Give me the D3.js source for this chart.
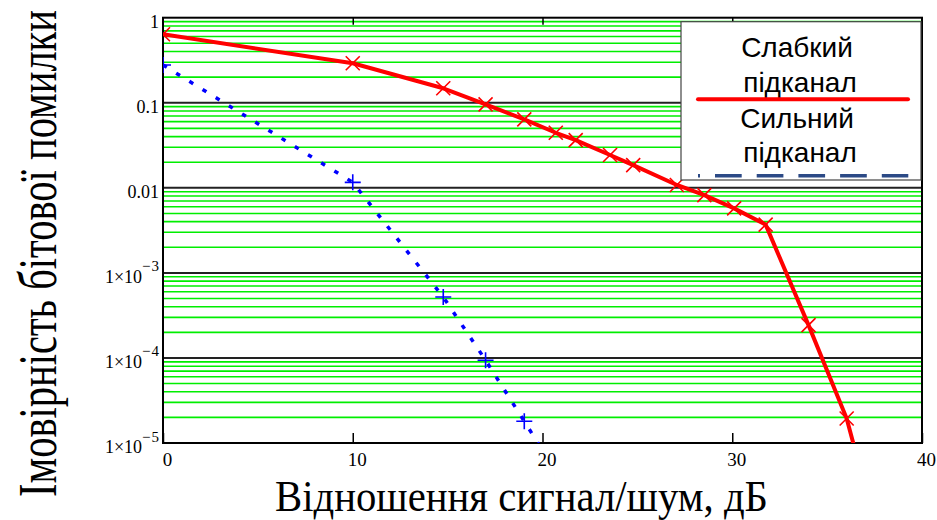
<!DOCTYPE html>
<html>
<head>
<meta charset="utf-8">
<script src="https://cdn.jsdelivr.net/npm/d3@7"></script>
<style>
  body { margin: 0; background: #fff; }
  svg { display: block; }
</style>
</head>
<body>
<svg id="chart" width="937" height="520"></svg>
<script>
// SNR points (dB) shared by both subchannels
const snrDb = [0, 10, 14.77, 17.0, 19.04, 20.7, 21.75, 23.56, 24.78, 27.08, 28.53, 30.1, 31.76, 34.02, 36.03, 37.8];
// Bit error probability, weak subchannel
const berWeak = [0.638, 0.291, 0.148, 0.0958, 0.0638, 0.0444, 0.0364, 0.0243, 0.0185, 0.0108, 0.0082, 0.00573, 0.00369, 2.43e-4, 1.94e-5, 6.5e-7];
// Bit error probability, strong subchannel
const snrStrong = [0, 10, 14.77, 17.0, 19.04, 20.7];
const berStrong = [0.278, 0.0116, 5.2e-4, 9.4e-5, 1.8e-5, 4.6e-6];

const xTickValues = [0, 10, 20, 30, 40];
const yTickValues = [1, 0.1, 0.01, 1e-3, 1e-4, 1e-5];
const yTickBase = ["1", "0.1", "0.01", "1×10", "1×10", "1×10"];
const yTickExp = ["", "", "", "−3", "−4", "−5"];

const seriesNames = ["Слабкий", "підканал", "Сильний", "підканал"];
const xTitle = "Відношення сигнал/шум, дБ";
const yTitle = "Імовірність бітової помилки";

const L = 163, R = 922, T = 17.7, B = 443;
const svg = d3.select("#chart");

const x = d3.scaleLinear().domain([0, 40]).range([L, R]);
const y = d3.scaleLog().domain([1e-5, 1]).range([B, T]);

svg.append("defs").append("clipPath").attr("id", "plotClip")
  .append("rect").attr("x", L).attr("y", T).attr("width", R - L).attr("height", B - T);

// minor log grid (2..9 in each decade)
const minor = [];
for (let e = -5; e < 0; e++) for (let m = 2; m <= 9; m++) minor.push(m * Math.pow(10, e));
svg.append("g").selectAll("line").data(minor).join("line")
  .attr("x1", L).attr("x2", R)
  .attr("y1", d => y(d)).attr("y2", d => y(d))
  .attr("stroke", "#00ee00").attr("stroke-width", 1.6);

// decade grid
svg.append("g").selectAll("line").data(yTickValues.slice(1, -1)).join("line")
  .attr("x1", L).attr("x2", R)
  .attr("y1", d => y(d)).attr("y2", d => y(d))
  .attr("stroke", "#222").attr("stroke-width", 2);

// x axis (ticks pointing inward)
const gx = svg.append("g").attr("transform", `translate(0,${B})`)
  .call(d3.axisBottom(x).tickValues(xTickValues).tickSizeInner(-10).tickSizeOuter(0).tickPadding(10));
gx.select(".domain").remove();
gx.selectAll(".tick line").attr("stroke", "#000").attr("stroke-width", 1.5);
gx.selectAll(".tick text")
  .attr("x", 4)
  .attr("font-family", "'Liberation Serif', 'Times New Roman', serif")
  .attr("font-size", 19).attr("fill", "#000");

const gxTop = svg.append("g").attr("transform", `translate(0,${T})`)
  .call(d3.axisTop(x).tickValues(xTickValues.slice(1, -1)).tickSizeInner(-7).tickSizeOuter(0).tickFormat(""));
gxTop.select(".domain").remove();
gxTop.selectAll(".tick line").attr("stroke", "#000").attr("stroke-width", 1.5);

// y axis with power-of-ten labels
const gy = svg.append("g").attr("transform", `translate(${L},0)`)
  .call(d3.axisLeft(y).tickValues(yTickValues).tickSize(0).tickPadding(4));
gy.select(".domain").remove();
gy.selectAll(".tick text")
  .attr("font-family", "'Liberation Serif', 'Times New Roman', serif")
  .attr("font-size", 18).attr("fill", "#000")
  .attr("dy", "0.53em")
  .each(function (d) {
    const i = yTickValues.indexOf(d);
    const t = d3.select(this).text(null);
    t.append("tspan").text(yTickBase[i]);
    if (yTickExp[i]) {
      t.attr("x", -3);
      t.append("tspan").attr("dy", -11.5).attr("font-size", 15).attr("letter-spacing", 1).text(yTickExp[i]);
    }
  });

// plot frame
svg.append("rect").attr("x", L).attr("y", T).attr("width", R - L).attr("height", B - T)
  .attr("fill", "none").attr("stroke", "#000").attr("stroke-width", 2);

// data
const plot = svg.append("g").attr("clip-path", "url(#plotClip)");
const weak = snrDb.map((s, i) => [s, berWeak[i]]);
const strong = snrStrong.map((s, i) => [s, berStrong[i]]);
const line = d3.line().x(d => x(d[0])).y(d => y(d[1]));

plot.append("path").datum(strong).attr("d", line)
  .attr("fill", "none").attr("stroke", "#0000ff").attr("stroke-width", 3.5)
  .attr("stroke-dasharray", "4.5,11");
plot.append("g").selectAll("path").data(strong).join("path")
  .attr("transform", d => `translate(${x(d[0])},${y(d[1])})`)
  .attr("d", "M-8,0H8M0,-8V8")
  .attr("stroke", "#0000ff").attr("stroke-width", 1.6).attr("fill", "none");

plot.append("path").datum(weak).attr("d", line)
  .attr("fill", "none").attr("stroke", "#ff0000").attr("stroke-width", 4)
  .attr("stroke-linejoin", "round");
plot.append("g").selectAll("path").data(weak).join("path")
  .attr("transform", d => `translate(${x(d[0])},${y(d[1])})`)
  .attr("d", "M-7,-7L7,7M-7,7L7,-7")
  .attr("stroke", "#ff0000").attr("stroke-width", 1.6).attr("fill", "none");

// legend
const lg = svg.append("g");
lg.append("rect").attr("x", 681).attr("y", 21.7).attr("width", 240).attr("height", 158.3)
  .attr("fill", "#fff").attr("stroke", "#444").attr("stroke-width", 1.2);
const legendText = [[797, 56.7], [800, 91.7], [797, 128.3], [800, 161.7]];
lg.selectAll("text").data(seriesNames).join("text")
  .attr("x", (d, i) => legendText[i][0]).attr("y", (d, i) => legendText[i][1])
  .attr("text-anchor", "middle")
  .attr("font-family", "'Liberation Sans', Arial, sans-serif")
  .attr("font-size", 28).attr("fill", "#000")
  .text(d => d);
lg.append("line").attr("x1", 698).attr("x2", 908).attr("y1", 99.3).attr("y2", 99.3)
  .attr("stroke", "#ff0000").attr("stroke-width", 4).attr("stroke-linecap", "round");
lg.append("line").attr("x1", 698).attr("x2", 908.3).attr("y1", 175.7).attr("y2", 175.7)
  .attr("stroke", "#2c4a86").attr("stroke-width", 3.5)
  .attr("stroke-dasharray", "2,15,26.7,15,26.7,15,26.7,15,26.7,15,26.7");

// axis titles
svg.append("text").attr("x", 521.5).attr("y", 511).attr("text-anchor", "middle")
  .attr("font-family", "'Liberation Serif', 'Times New Roman', serif")
  .attr("font-size", 45).attr("textLength", 493).attr("lengthAdjust", "spacingAndGlyphs")
  .attr("fill", "#000").text(xTitle);
// vertical title, glyphs stretched across the line
svg.append("text").attr("transform", "translate(56,253.5) rotate(-90) scale(1,1.35)").attr("text-anchor", "middle")
  .attr("font-family", "'Liberation Serif', 'Times New Roman', serif")
  .attr("font-size", 40.5)
  .attr("fill", "#000").text(yTitle);
</script>
</body>
</html>
